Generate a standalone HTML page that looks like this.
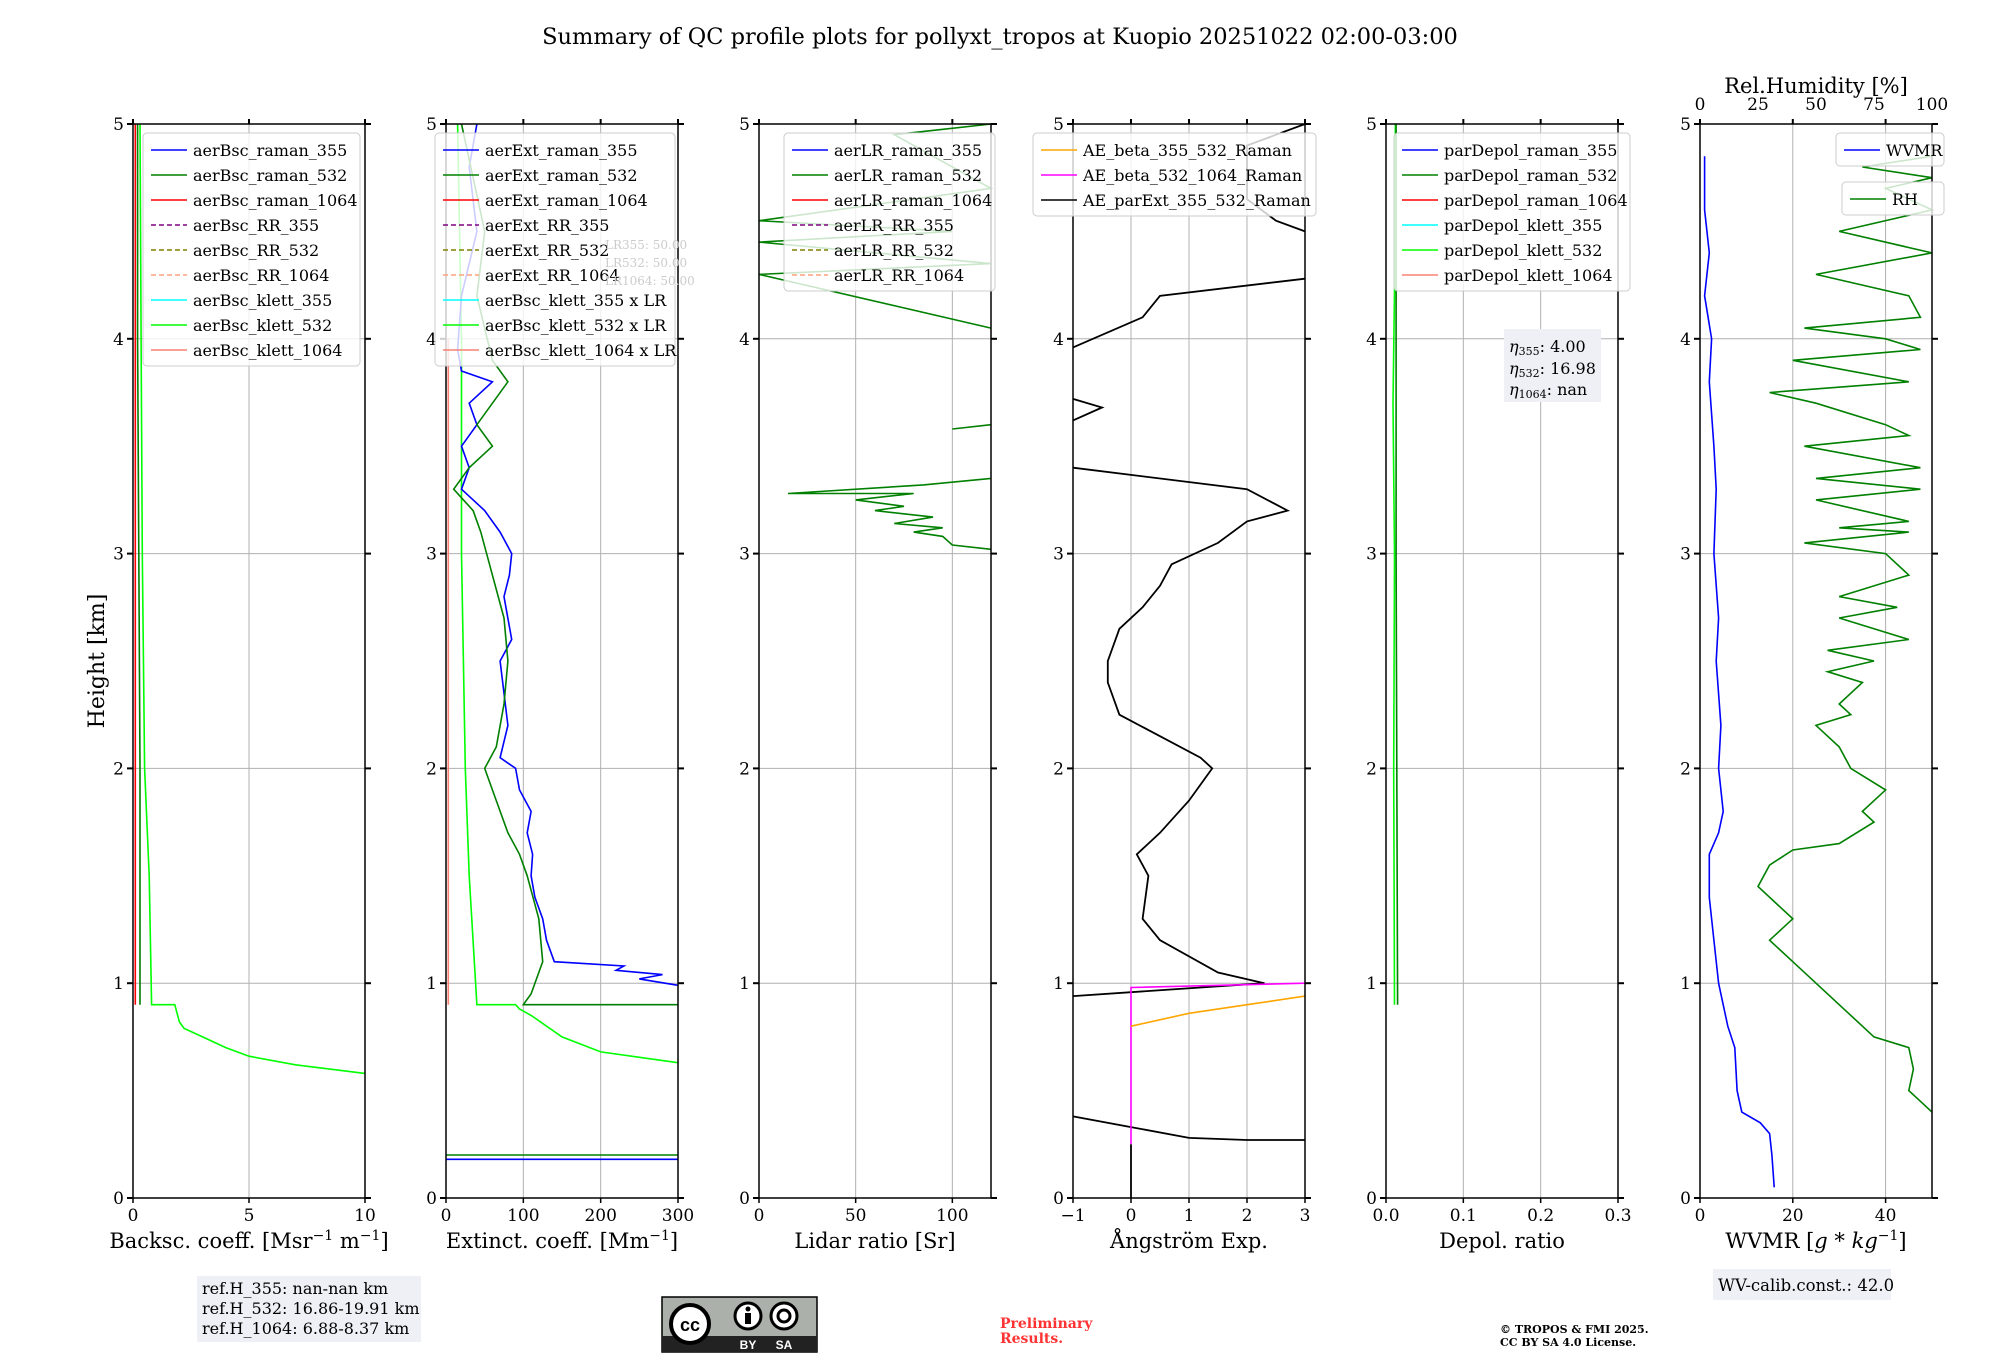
<!DOCTYPE html>
<html><head><meta charset="utf-8"><style>
body{margin:0;background:#fff;}
svg{display:block;font-family:"DejaVu Serif","Liberation Serif",serif;}
</style></head><body>
<svg id="fig" width="2000" height="1360" viewBox="0 0 2000 1360" xmlns="http://www.w3.org/2000/svg">
<text x="1000" y="44" font-size="22.5" text-anchor="middle">Summary of QC profile plots for pollyxt_tropos at Kuopio 20251022 02:00-03:00</text>
<text transform="translate(104,661) rotate(-90)" font-size="22" text-anchor="middle">Height [km]</text>
<g id="plots"></g>
<g>
<rect x="197" y="1276" width="224" height="66" fill="#eef0f5"/>
<text x="202" y="1294" font-size="16">ref.H_355: nan-nan km</text>
<text x="202" y="1314" font-size="16">ref.H_532: 16.86-19.91 km</text>
<text x="202" y="1334" font-size="16">ref.H_1064: 6.88-8.37 km</text>
</g>
<g>
<rect x="1713" y="1269" width="178" height="31" fill="#eef0f5"/>
<text x="1718" y="1291" font-size="16.5">WV-calib.const.: 42.0</text>
</g>
<g>
<rect x="662" y="1297" width="155" height="55" fill="#abb1aa" stroke="#000" stroke-width="1.5"/>
<rect x="662" y="1336" width="155" height="16" fill="#222"/>
<circle cx="690" cy="1324" r="19" fill="#fff" stroke="#000" stroke-width="4"/>
<text x="690" y="1331" font-family="Liberation Sans,sans-serif" font-weight="bold" font-size="18" text-anchor="middle">cc</text>
<circle cx="748" cy="1316" r="13" fill="#fff" stroke="#000" stroke-width="3"/>
<circle cx="748" cy="1309" r="2.5" fill="#000"/><rect x="745" y="1313" width="6" height="11" fill="#000"/>
<circle cx="784" cy="1316" r="13" fill="#fff" stroke="#000" stroke-width="3"/>
<circle cx="784" cy="1316" r="6" fill="none" stroke="#000" stroke-width="3"/>
<text x="748" y="1349" fill="#fff" font-family="Liberation Sans,sans-serif" font-weight="bold" font-size="12" text-anchor="middle">BY</text>
<text x="784" y="1349" fill="#fff" font-family="Liberation Sans,sans-serif" font-weight="bold" font-size="12" text-anchor="middle">SA</text>
</g>
<text fill="#ff3333" font-size="14" font-weight="bold"><tspan x="1000" y="1328">Preliminary</tspan><tspan x="1000" y="1343">Results.</tspan></text>
<text font-size="11" font-weight="bold"><tspan x="1500" y="1333">© TROPOS &amp; FMI 2025.</tspan><tspan x="1500" y="1346">CC BY SA 4.0 License.</tspan></text>
</svg>
<script>
// ---- data arrays: [value, height_km] ----
const bscKlett532=[[10,0.58],[7,0.62],[5,0.66],[4,0.7],[3,0.75],[2.2,0.79],[2,0.82],[1.8,0.9],[0.8,0.9],[0.7,1.5],[0.5,2],[0.4,3],[0.35,4],[0.3,5]];
const bscRaman532=[[0.3,0.9],[0.3,2],[0.25,3],[0.2,4],[0.2,5]];
const bscRaman1064=[[0.1,0.9],[0.1,5]];
const extRaman355=[[300,0.99],[250,1.02],[280,1.04],[220,1.06],[230,1.08],[140,1.1],[130,1.2],[125,1.3],[115,1.4],[110,1.5],[112,1.6],[105,1.7],[110,1.8],[95,1.9],[90,2.0],[70,2.05],[80,2.2],[70,2.5],[85,2.6],[75,2.8],[82,2.9],[85,3.0],[70,3.1],[50,3.2],[20,3.3],[30,3.4],[20,3.5],[40,3.6],[30,3.7],[60,3.8],[20,3.85],[15,3.95],[20,4.2],[40,4.5],[30,4.8],[40,5]];
const extRaman532=[[300,0.9],[100,0.9],[110,0.95],[125,1.1],[120,1.3],[105,1.5],[95,1.6],[80,1.7],[60,1.9],[50,2.0],[65,2.1],[75,2.3],[80,2.5],[75,2.7],[60,2.9],[45,3.1],[35,3.2],[10,3.3],[30,3.4],[60,3.5],[40,3.6],[80,3.8],[60,3.9],[40,4.2],[50,4.5],[20,5]];
const extLow355=[[0,0.18],[300,0.18]];
const extLow532=[[0,0.2],[300,0.2]];
const extKlett532=[[300,0.63],[200,0.68],[150,0.75],[110,0.85],[95,0.88],[90,0.9],[40,0.9],[30,1.5],[25,2],[20,3],[20,4],[15,5]];
const extKlett1064=[[3,0.9],[3,4]];
const lr532a=[[120,3.02],[100,3.04],[95,3.08],[80,3.1],[95,3.12],[70,3.14],[90,3.17],[60,3.2],[75,3.22],[50,3.25],[80,3.28],[15,3.28],[85,3.32],[120,3.35]];
const lr532b=[[100,3.58],[120,3.6]];
const lr532c=[[120,4.05],[0,4.3],[120,4.35],[0,4.45],[100,4.5],[0,4.55],[120,4.7],[70,4.95],[120,5]];
const aeParA=[[0,0],[0,0.25]];
const aeParB=[[-1,0.38],[0,0.33],[1,0.28],[2,0.27],[3,0.27]];
const aeParC=[[-1,0.94],[2.3,1.0],[1.5,1.05],[0.5,1.2],[0.2,1.3],[0.3,1.5],[0.1,1.6],[0.5,1.7],[1,1.85],[1.4,2],[1.2,2.05],[0.5,2.15],[-0.2,2.25],[-0.4,2.4],[-0.4,2.5],[-0.2,2.65],[0.2,2.75],[0.5,2.85],[0.7,2.95],[1.5,3.05],[2.0,3.15],[2.7,3.2],[2,3.3],[-1,3.4]];
const aeParD=[[-1,3.62],[-0.5,3.68],[-1,3.72]];
const aeParE=[[-1,3.96],[0.2,4.1],[0.5,4.2],[3,4.28]];
const aeParF=[[3,4.5],[2.5,4.55],[2,4.65],[2,4.9],[3,5]];
const aeBeta5321064=[[0,0.25],[0,0.98],[3,1.0]];
const aeBeta355532=[[0,0.8],[1,0.86],[2,0.9],[3,0.94]];
const depol532=[[0.015,0.9],[0.014,2],[0.013,3],[0.013,4],[0.013,5]];
const depolKlett532=[[0.011,0.9],[0.01,2],[0.011,3],[0.009,3.7],[0.012,4.5],[0.012,5]];
const wvmr=[[16,0.05],[15.5,0.2],[15,0.3],[13,0.35],[9,0.4],[8,0.5],[7.5,0.7],[6,0.8],[4,1.0],[3,1.2],[2,1.4],[2,1.6],[4,1.7],[5,1.8],[4,2.0],[4.5,2.2],[3.5,2.5],[4,2.7],[3,3],[3.5,3.3],[3,3.5],[2,3.8],[2.5,4],[1,4.2],[2,4.4],[1,4.6],[1,4.85]];
const rh=[[100,0.4],[95,0.45],[90,0.5],[92,0.6],[90,0.7],[75,0.75],[65,0.85],[55,0.95],[40,1.1],[30,1.2],[40,1.3],[25,1.45],[30,1.55],[40,1.62],[60,1.65],[75,1.75],[70,1.8],[80,1.9],[65,2.0],[60,2.1],[50,2.2],[65,2.25],[60,2.3],[70,2.4],[55,2.45],[75,2.5],[55,2.55],[90,2.6],[60,2.7],[85,2.75],[60,2.8],[90,2.9],[80,3.0],[45,3.05],[90,3.1],[60,3.12],[90,3.15],[50,3.25],[95,3.3],[50,3.35],[95,3.4],[45,3.5],[90,3.55],[80,3.6],[50,3.7],[30,3.75],[90,3.8],[40,3.9],[95,3.95],[80,4.0],[45,4.05],[95,4.1],[90,4.2],[50,4.3],[100,4.4],[60,4.5],[100,4.6],[80,4.7],[100,4.75],[70,4.8],[100,4.85]];
const yTicks=[0,1,2,3,4,5];
const bscTicks=[0,5,10], extTicks=[0,100,200,300], lrTicks=[0,50,100], aeTicks=[-1,0,1,2,3], depTicks=[0,0.1,0.2,0.3], wvTicks=[0,20,40], rhTicks=[0,25,50,75,100];

const NS='http://www.w3.org/2000/svg';
const root=document.getElementById('plots');
const TOP=124,BOT=1198,W=232;
function yS(h){return BOT-(h/5)*(BOT-TOP);}
function mk(tag,attrs,parent){const e=document.createElementNS(NS,tag);for(const k in attrs)e.setAttribute(k,attrs[k]);(parent||root).appendChild(e);return e;}
function panel(name,left,dom,ticks,tickFmt,xlabel){
  const g=mk('g',{});
  
  
  const xS=v=>left+(v-dom[0])/(dom[1]-dom[0])*W;
  ticks.forEach(t=>{const x=xS(t);
    if(x>left+1&&x<left+W-1){const gl=mk('line',{x1:x,x2:x,y1:TOP,y2:BOT,stroke:'#b0b0b0','stroke-width':1},g);}
    mk('line',{x1:x,x2:x,y1:BOT,y2:BOT+5,stroke:'#000','stroke-width':1.5},g);
    const tl=mk('text',{x:x,y:BOT+23,'font-size':17,'text-anchor':'middle'},g);tl.textContent=tickFmt(t);
    
    mk('line',{x1:x,x2:x,y1:TOP,y2:TOP-5,stroke:'#000','stroke-width':2},g);
  });
  yTicks.forEach(t=>{const y=yS(t);
    if(t>0&&t<5){const gl=mk('line',{x1:left,x2:left+W,y1:y,y2:y,stroke:'#b0b0b0','stroke-width':1},g);}
    mk('line',{x1:left-6,x2:left,y1:y,y2:y,stroke:'#000','stroke-width':2},g);
    mk('line',{x1:left+W,x2:left+W+6,y1:y,y2:y,stroke:'#000','stroke-width':2},g);
    const tl=mk('text',{x:left-9,y:y+6,'font-size':17,'text-anchor':'end'},g);tl.textContent=t;
    
  });
  const lb=mk('text',{x:left+W/2,y:1248,'font-size':21,'text-anchor':'middle'},g);
  lb.innerHTML=xlabel;
  
  return {g,xS};
}
function series(p,data,color,name,w,op){
  const d=data.map((pt,i)=>(i?'L':'M')+p.xS(pt[0]).toFixed(1)+','+yS(pt[1]).toFixed(1)).join('');
  const e=mk('path',{d:d,fill:'none',stroke:color,'stroke-width':w||1.6,opacity:op||1},p.g);
  
  
}
function frame(p,left){const r=mk('rect',{x:left,y:TOP,width:W,height:BOT-TOP,fill:'none',stroke:'#000','stroke-width':1.5},p.g);}
function legend(p,x,y,w,items,name){
  const g=mk('g',{},p.g);
  
  
  mk('rect',{x:x,y:y,width:w,height:items.length*25+8,rx:4,fill:'#fff','fill-opacity':0.8,stroke:'#ccc'},g);
  items.forEach((it,i)=>{const yy=y+17+i*25;
    const ln=mk('line',{x1:x+8,x2:x+44,y1:yy,y2:yy,stroke:it[1],'stroke-width':1.6},g);
    if(it[2])ln.setAttribute('stroke-dasharray','5,3');
    const t=mk('text',{x:x+50,y:yy+6,'font-size':16},g);t.textContent=it[0];
    
  });
}
const fmt=t=>String(t);
// Panel 1
let p=panel('backscatter-panel',133,[0,10],bscTicks,fmt,'Backsc. coeff. [Msr<tspan dy="-8" font-size="14">−1</tspan><tspan dy="8"> m</tspan><tspan dy="-8" font-size="14">−1</tspan><tspan dy="8">]</tspan>');
series(p,[[0,0],[0,5]],'#888','bsc-zero-line',1);
series(p,bscRaman532,'green','aerBsc-raman-532');
series(p,bscRaman1064,'red','aerBsc-raman-1064');
series(p,bscKlett532,'lime','aerBsc-klett-532');
frame(p,133);
legend(p,143,133,217,[['aerBsc_raman_355','blue'],['aerBsc_raman_532','green'],['aerBsc_raman_1064','red'],['aerBsc_RR_355','purple',1],['aerBsc_RR_532','olive',1],['aerBsc_RR_1064','#ffa07a',1],['aerBsc_klett_355','cyan'],['aerBsc_klett_532','lime'],['aerBsc_klett_1064','#fa8072']],'backscatter-legend');
// Panel 2
p=panel('extinction-panel',446,[0,300],extTicks,fmt,'Extinct. coeff. [Mm<tspan dy="-8" font-size="14">−1</tspan><tspan dy="8">]</tspan>');
series(p,extLow355,'blue','aerExt-raman-355-low');
series(p,extLow532,'green','aerExt-raman-532-low');
series(p,extKlett1064,'#fa8072','aerBsc-klett-1064-x-lr');
series(p,extKlett532,'lime','aerBsc-klett-532-x-lr');
series(p,extRaman355,'blue','aerExt-raman-355');
series(p,extRaman532,'green','aerExt-raman-532');
frame(p,446);
legend(p,435,133,240,[['aerExt_raman_355','blue'],['aerExt_raman_532','green'],['aerExt_raman_1064','red'],['aerExt_RR_355','purple',1],['aerExt_RR_532','olive',1],['aerExt_RR_1064','#ffa07a',1],['aerBsc_klett_355 x LR','cyan'],['aerBsc_klett_532 x LR','lime'],['aerBsc_klett_1064 x LR','#fa8072']],'extinction-legend');
{const t=mk('text',{x:605,y:249,'font-size':12,fill:'#ccc'},p.g);t.innerHTML='<tspan x="605" y="249">LR355: 50.00</tspan><tspan x="605" y="267">LR532: 50.00</tspan><tspan x="605" y="285">LR1064: 50.00</tspan>';}
// Panel 3
p=panel('lidar-ratio-panel',759,[0,120],lrTicks,fmt,'Lidar ratio [Sr]');
series(p,lr532a,'green','aerLR-raman-532-a');
series(p,lr532b,'green','aerLR-raman-532-b');
series(p,lr532c,'green','aerLR-raman-532-c');
frame(p,759);
legend(p,784,133,211,[['aerLR_raman_355','blue'],['aerLR_raman_532','green'],['aerLR_raman_1064','red'],['aerLR_RR_355','purple',1],['aerLR_RR_532','olive',1],['aerLR_RR_1064','#ffa07a',1]],'lidar-ratio-legend');
// Panel 4
p=panel('angstrom-panel',1073,[-1,3],aeTicks,t=>t<0?'−1':String(t),'Ångström Exp.');
[aeParA,aeParB,aeParC,aeParD,aeParE,aeParF].forEach((s,i)=>series(p,s,'black','ae-parext-355-532-seg'+i,1.8));
series(p,aeBeta5321064,'magenta','ae-beta-532-1064');
series(p,aeBeta355532,'orange','ae-beta-355-532');
frame(p,1073);
legend(p,1033,133,283,[['AE_beta_355_532_Raman','orange'],['AE_beta_532_1064_Raman','magenta'],['AE_parExt_355_532_Raman','black']],'angstrom-legend');
// Panel 5
p=panel('depol-panel',1386,[0,0.3],depTicks,t=>t.toFixed(1),'Depol. ratio');
series(p,depolKlett532,'lime','parDepol-klett-532');
series(p,depol532,'green','parDepol-raman-532');
frame(p,1386);
legend(p,1394,133,236,[['parDepol_raman_355','blue'],['parDepol_raman_532','green'],['parDepol_raman_1064','red'],['parDepol_klett_355','cyan'],['parDepol_klett_532','lime'],['parDepol_klett_1064','#fa8072']],'depol-legend');
{const g=mk('g',{},p.g);
mk('rect',{x:1504,y:329,width:97,height:73,fill:'#eef0f5'},g);
const t=mk('text',{'font-size':16},g);t.innerHTML='<tspan x="1509" y="352" font-style="italic">η</tspan><tspan font-size="11" dy="3">355</tspan><tspan dy="-3">: 4.00</tspan><tspan x="1509" y="374" font-style="italic">η</tspan><tspan font-size="11" dy="3">532</tspan><tspan dy="-3">: 16.98</tspan><tspan x="1509" y="395" font-style="italic">η</tspan><tspan font-size="11" dy="3">1064</tspan><tspan dy="-3">: nan</tspan>';}
// Panel 6
p=panel('wvmr-panel',1700,[0,50],wvTicks,fmt,'WVMR [<tspan font-style="italic">g</tspan> * <tspan font-style="italic">kg</tspan><tspan dy="-8" font-size="14">−1</tspan><tspan dy="8">]</tspan>');
series(p,wvmr,'blue','wvmr-line');
const pRH={g:p.g,xS:v=>1700+v/100*W};
series(pRH,rh,'green','rh-line');
rhTicks.forEach(t=>{const x=pRH.xS(t);const tl=mk('text',{x:x,y:110,'font-size':17,'text-anchor':'middle'},p.g);tl.textContent=t;});
{const t=mk('text',{x:1816,y:93,'font-size':21,'text-anchor':'middle'},p.g);t.textContent='Rel.Humidity [%]';}
frame(p,1700);
legend(p,1836,133,108,[['WVMR','blue']],'wvmr-legend');
legend(p,1842,182,102,[['RH','green']],'rh-legend');
</script>
</body></html>
